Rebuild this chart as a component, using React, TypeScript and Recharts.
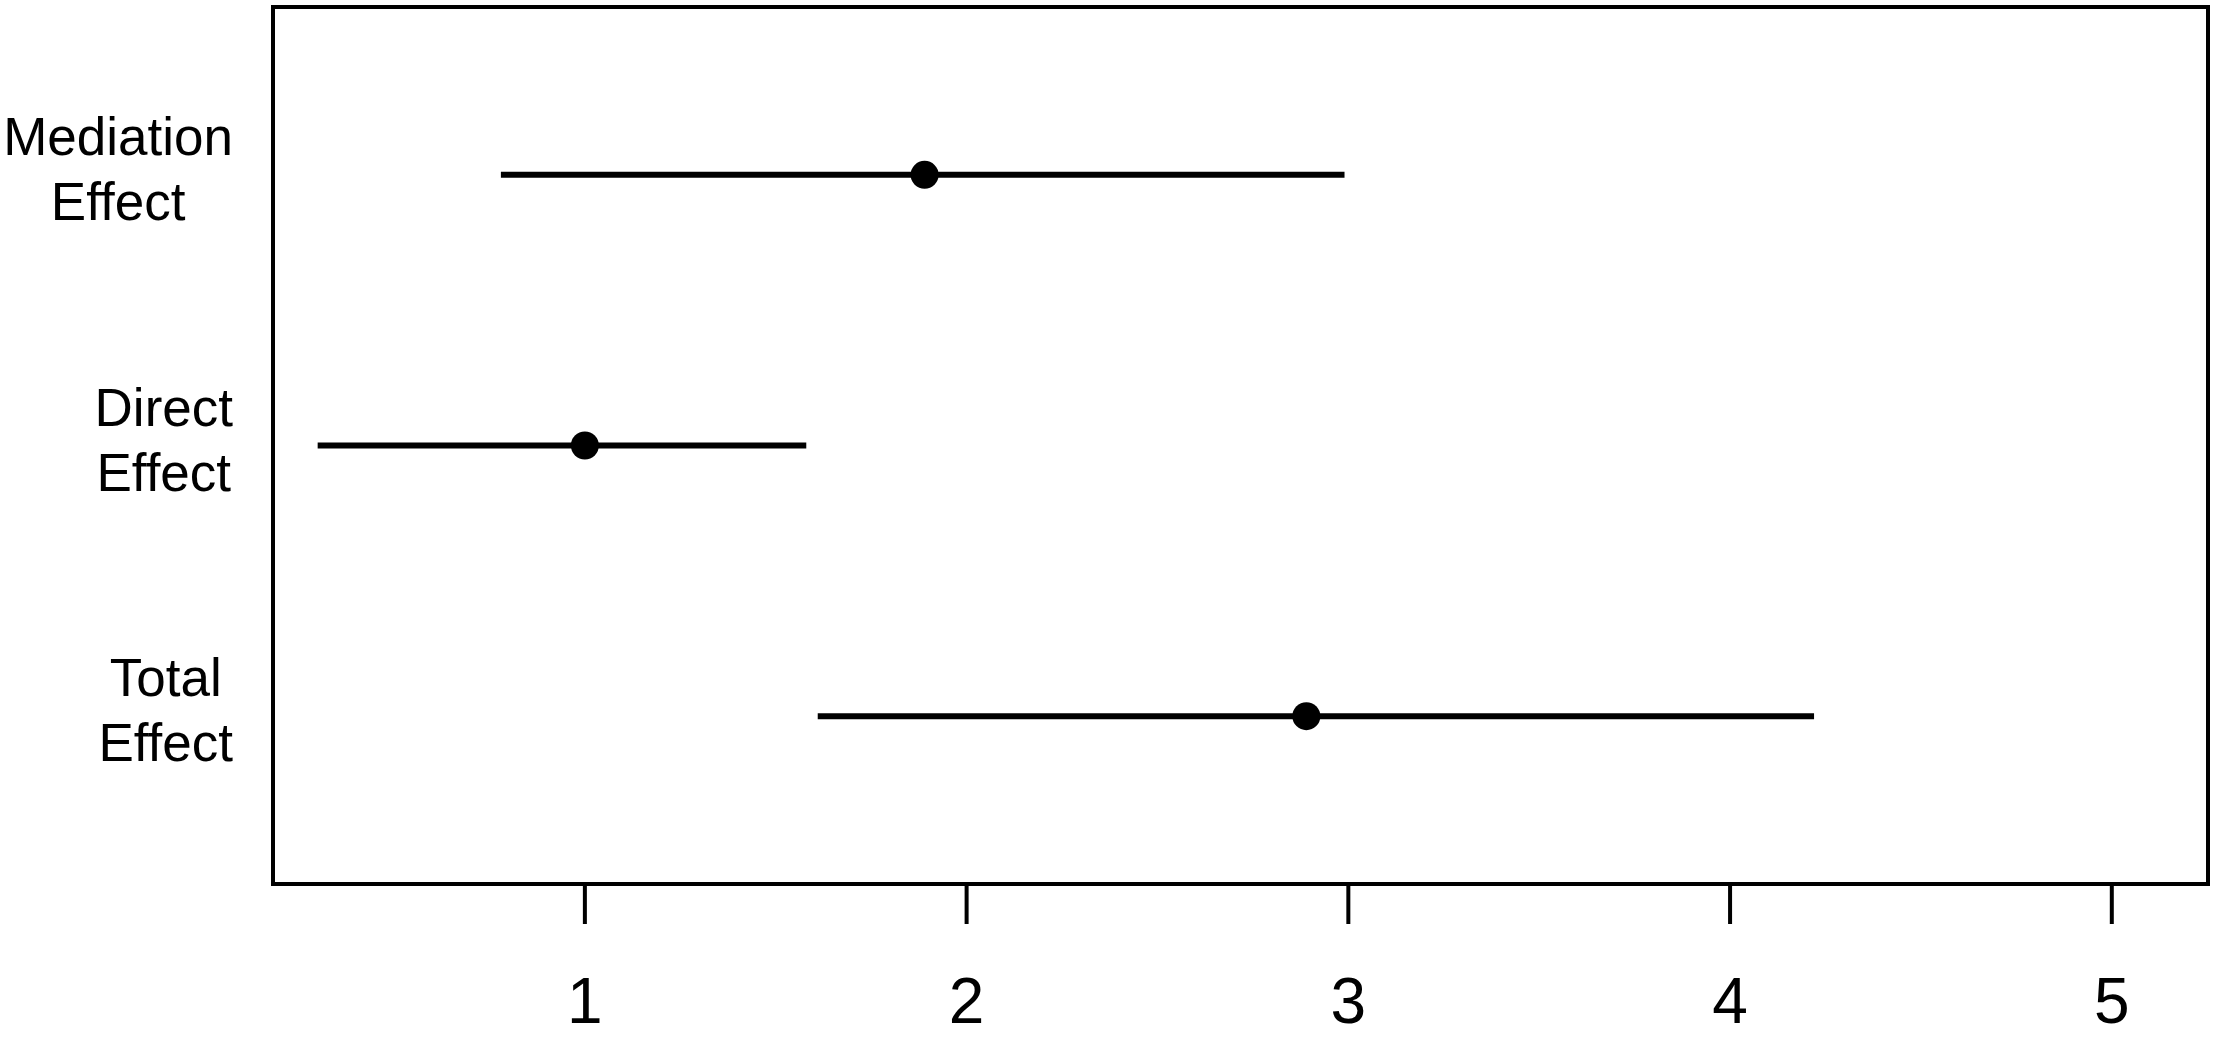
import {
  ScatterChart,
  Scatter,
  XAxis,
  YAxis,
  ErrorBar,
  ReferenceArea,
} from "recharts";

// effects listed top to bottom as in the figure
const effectLabels = ["Mediation Effect", "Direct Effect", "Total Effect"];
const estimates = [1.89, 1.0, 2.89];
const lowerCI = [0.78, 0.3, 1.61];
const upperCI = [2.99, 1.58, 4.22];

const xTicks = [1, 2, 3, 4, 5];
const X_DOMAIN: [number, number] = [0.183, 5.252];
const Y_DOMAIN: [number, number] = [0.38, 3.62];

const FONT = "'Liberation Sans', Arial, sans-serif";
const LABEL_SIZE = 53;
const TICK_SIZE = 64;

const data = effectLabels.map((name, i) => ({
  name,
  y: effectLabels.length - i,
  est: estimates[i],
  err: [estimates[i] - lowerCI[i], upperCI[i] - estimates[i]],
}));

let measureCtx: CanvasRenderingContext2D | null = null;
function textWidth(s: string) {
  if (!measureCtx) {
    measureCtx = document.createElement("canvas").getContext("2d");
  }
  if (!measureCtx) return s.length * LABEL_SIZE * 0.5;
  measureCtx.font = `${LABEL_SIZE}px 'Liberation Sans'`;
  return measureCtx.measureText(s).width;
}

function EffectTick(props: any) {
  const { x, y, payload } = props;
  const idx = effectLabels.length - payload.value;
  const label = effectLabels[idx];
  if (!label) return null;
  const lines = label.split(" ");
  const widest = Math.max(...lines.map(textWidth));
  const cx = x - widest / 2;
  return (
    <text
      x={cx}
      y={y}
      textAnchor="middle"
      fontFamily={FONT}
      fontSize={LABEL_SIZE}
      fill="#000"
    >
      <tspan x={cx} dy={-20}>
        {lines[0]}
      </tspan>
      <tspan x={cx} dy={65}>
        {lines[1]}
      </tspan>
    </text>
  );
}

function NumberTick(props: any) {
  const { x, y, payload } = props;
  return (
    <text
      x={x}
      y={y + 97}
      textAnchor="middle"
      fontFamily={FONT}
      fontSize={TICK_SIZE}
      fill="#000"
    >
      {payload.value}
    </text>
  );
}

export default function App() {
  return (
    <div style={{ position: "absolute", left: 0, top: 0, background: "#fff" }}>
      <ScatterChart
        width={2217}
        height={1038}
        margin={{ top: 7, right: 9, bottom: 0, left: 0 }}
      >
        <XAxis
          type="number"
          dataKey="est"
          domain={X_DOMAIN}
          ticks={xTicks}
          allowDataOverflow
          axisLine={false}
          tickSize={40}
          tickMargin={2}
          tickLine={{ stroke: "#000", strokeWidth: 4 }}
          height={154}
          tick={<NumberTick />}
        />
        <YAxis
          type="number"
          dataKey="y"
          domain={Y_DOMAIN}
          ticks={[1, 2, 3]}
          allowDataOverflow
          axisLine={false}
          tickLine={false}
          tickSize={0}
          tickMargin={40}
          width={273}
          tick={<EffectTick />}
        />
        <ReferenceArea
          x1={X_DOMAIN[0]}
          x2={X_DOMAIN[1]}
          y1={Y_DOMAIN[0]}
          y2={Y_DOMAIN[1]}
          ifOverflow="visible"
          fill="none"
          stroke="#000"
          strokeWidth={4}
        />
        <Scatter
          data={data}
          isAnimationActive={false}
          fill="#000"
          shape={(p: any) => <circle cx={p.cx} cy={p.cy} r={14} fill="#000" />}
        >
          <ErrorBar
            dataKey="err"
            direction="x"
            width={0}
            stroke="#000"
            strokeWidth={6}
            isAnimationActive={false}
          />
        </Scatter>
      </ScatterChart>
    </div>
  );
}
